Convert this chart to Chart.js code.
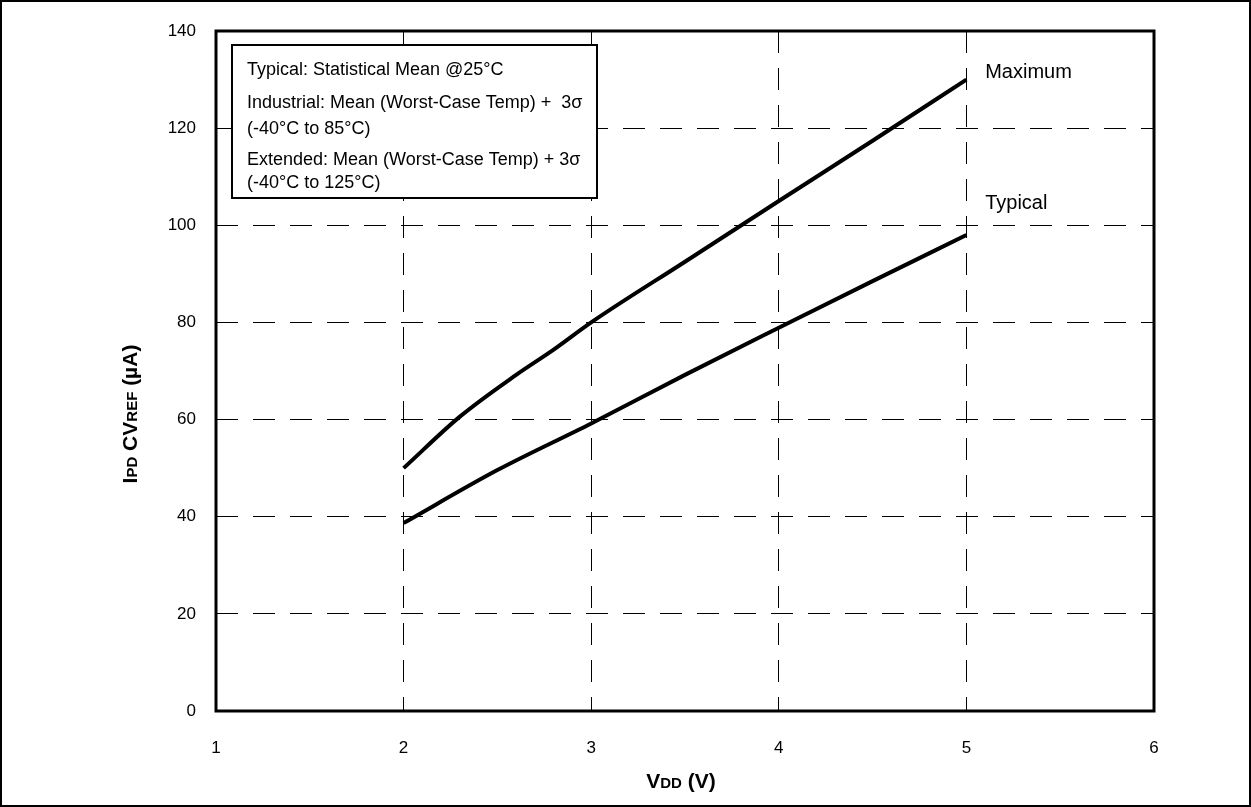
<!DOCTYPE html>
<html>
<head>
<meta charset="utf-8">
<script src="https://cdn.jsdelivr.net/npm/chart.js@4/dist/chart.umd.min.js"></script>
<style>
  html, body { margin: 0; padding: 0; background: #fff; }
  #wrap { width: 1251px; height: 807px; }
</style>
</head>
<body>
<div id="wrap"><canvas id="grafico" width="1251" height="807"></canvas></div>
<script>
// valores
let vddMax = [2, 2.3, 2.6, 2.8, 3, 3.5, 4, 4.5, 5];
let ipdMax = [50, 60.6, 69.2, 74.4, 80, 92.5, 105, 117.4, 130];
let vddTyp = [2, 2.5, 3, 3.5, 4, 4.5, 5];
let ipdTyp = [38.7, 49.6, 59.2, 69.2, 78.9, 88.5, 98];
let xTicks = [1, 2, 3, 4, 5, 6];
let yTicks = [0, 20, 40, 60, 80, 100, 120, 140];
let notas = [
    'Typical: Statistical Mean @25°C',
    'Industrial: Mean (Worst-Case Temp) +  3σ',
    '(-40°C to 85°C)',
    'Extended: Mean (Worst-Case Temp) + 3σ',
    '(-40°C to 125°C)'
];
let etiquetas = [
    {texto: 'Maximum', x: 5.1, y: 131.5},
    {texto: 'Typical', x: 5.1, y: 104.5}
];

const fuente = '"Liberation Sans", Arial, sans-serif';

function puntos(xs, ys) {
    return xs.map((x, i) => ({x: x, y: ys[i]}));
}

// dibuja texto con partes de distinto tamaño (subindices tipo versalitas)
function textoMixto(ctx, partes, cx, cy) {
    let total = 0;
    partes.forEach(p => {
        ctx.font = 'bold ' + p[1] + 'px ' + fuente;
        total += ctx.measureText(p[0]).width;
    });
    let x = cx - total / 2;
    ctx.textAlign = 'left';
    ctx.textBaseline = 'alphabetic';
    partes.forEach(p => {
        ctx.font = 'bold ' + p[1] + 'px ' + fuente;
        ctx.fillText(p[0], x, cy);
        x += ctx.measureText(p[0]).width;
    });
}

const extras = {
    id: 'extras',
    afterDraw(chart) {
        const ctx = chart.ctx;
        const a = chart.chartArea;
        const sx = chart.scales.x, sy = chart.scales.y;
        ctx.save();
        ctx.fillStyle = '#000';
        ctx.strokeStyle = '#000';

        // marco del area de trazado
        ctx.lineWidth = 3;
        ctx.strokeRect(a.left, a.top, a.right - a.left, a.bottom - a.top);

        // cuadro de notas
        const bx = a.left + 16, by = a.top + 14, bw = 365, bh = 153;
        ctx.fillStyle = '#fff';
        ctx.fillRect(bx, by, bw, bh);
        ctx.lineWidth = 2;
        ctx.strokeRect(bx, by, bw, bh);
        ctx.fillStyle = '#000';
        ctx.font = '18px ' + fuente;
        ctx.textAlign = 'left';
        ctx.textBaseline = 'middle';
        const filas = [25, 58, 84, 115, 138];
        notas.forEach((t, i) => ctx.fillText(t, bx + 15, by + filas[i]));

        // etiquetas de series
        ctx.font = '20px ' + fuente;
        etiquetas.forEach(e => {
            ctx.fillText(e.texto, sx.getPixelForValue(e.x), sy.getPixelForValue(e.y));
        });

        // titulo eje x
        textoMixto(ctx, [['V', 21], ['DD', 15], [' (V)', 21]], 681, 788);

        // titulo eje y
        ctx.translate(137, 414);
        ctx.rotate(-Math.PI / 2);
        textoMixto(ctx, [['I', 21], ['PD', 15], [' CV', 21], ['REF', 15], [' (µA)', 21]], 0, 0);
        ctx.restore();

        // marco exterior
        ctx.save();
        ctx.lineWidth = 2;
        ctx.strokeStyle = '#000';
        ctx.strokeRect(1, 1, chart.width - 2, chart.height - 2);
        ctx.restore();
    }
};

let grafico = new Chart(document.getElementById('grafico').getContext('2d'), {
    type: 'scatter',
    data: {
        datasets: [{
            label: 'Maximum',
            data: puntos(vddMax, ipdMax),
            showLine: true,
            borderColor: '#000',
            borderWidth: 4,
            pointRadius: 0,
            cubicInterpolationMode: 'monotone',
            borderCapStyle: 'butt',
            borderJoinStyle: 'round'
        }, {
            label: 'Typical',
            data: puntos(vddTyp, ipdTyp),
            showLine: true,
            borderColor: '#000',
            borderWidth: 4,
            pointRadius: 0,
            cubicInterpolationMode: 'monotone',
            borderCapStyle: 'butt',
            borderJoinStyle: 'round'
        }]
    },
    options: {
        responsive: false,
        animation: false,
        layout: { padding: { left: 0, top: 31, right: 97, bottom: 0 } },
        plugins: {
            legend: { display: false },
            tooltip: { enabled: false }
        },
        scales: {
            x: {
                type: 'linear',
                min: 1, max: 6,
                afterFit: s => { s.height = 96; },
                afterBuildTicks: s => { s.ticks = xTicks.map(v => ({value: v})); },
                grid: { color: '#000', lineWidth: 1, drawTicks: false },
                border: { display: false, dash: [22, 15] },
                ticks: { color: '#000', padding: 27, font: { family: fuente, size: 17 } }
            },
            y: {
                min: 0, max: 140,
                afterFit: s => { s.width = 216; },
                afterBuildTicks: s => { s.ticks = yTicks.map(v => ({value: v})); },
                grid: { color: '#000', lineWidth: 1, drawTicks: false },
                border: { display: false, dash: [22, 15] },
                ticks: { color: '#000', padding: 20, font: { family: fuente, size: 17 } }
            }
        }
    },
    plugins: [extras]
});
</script>
</body>
</html>
